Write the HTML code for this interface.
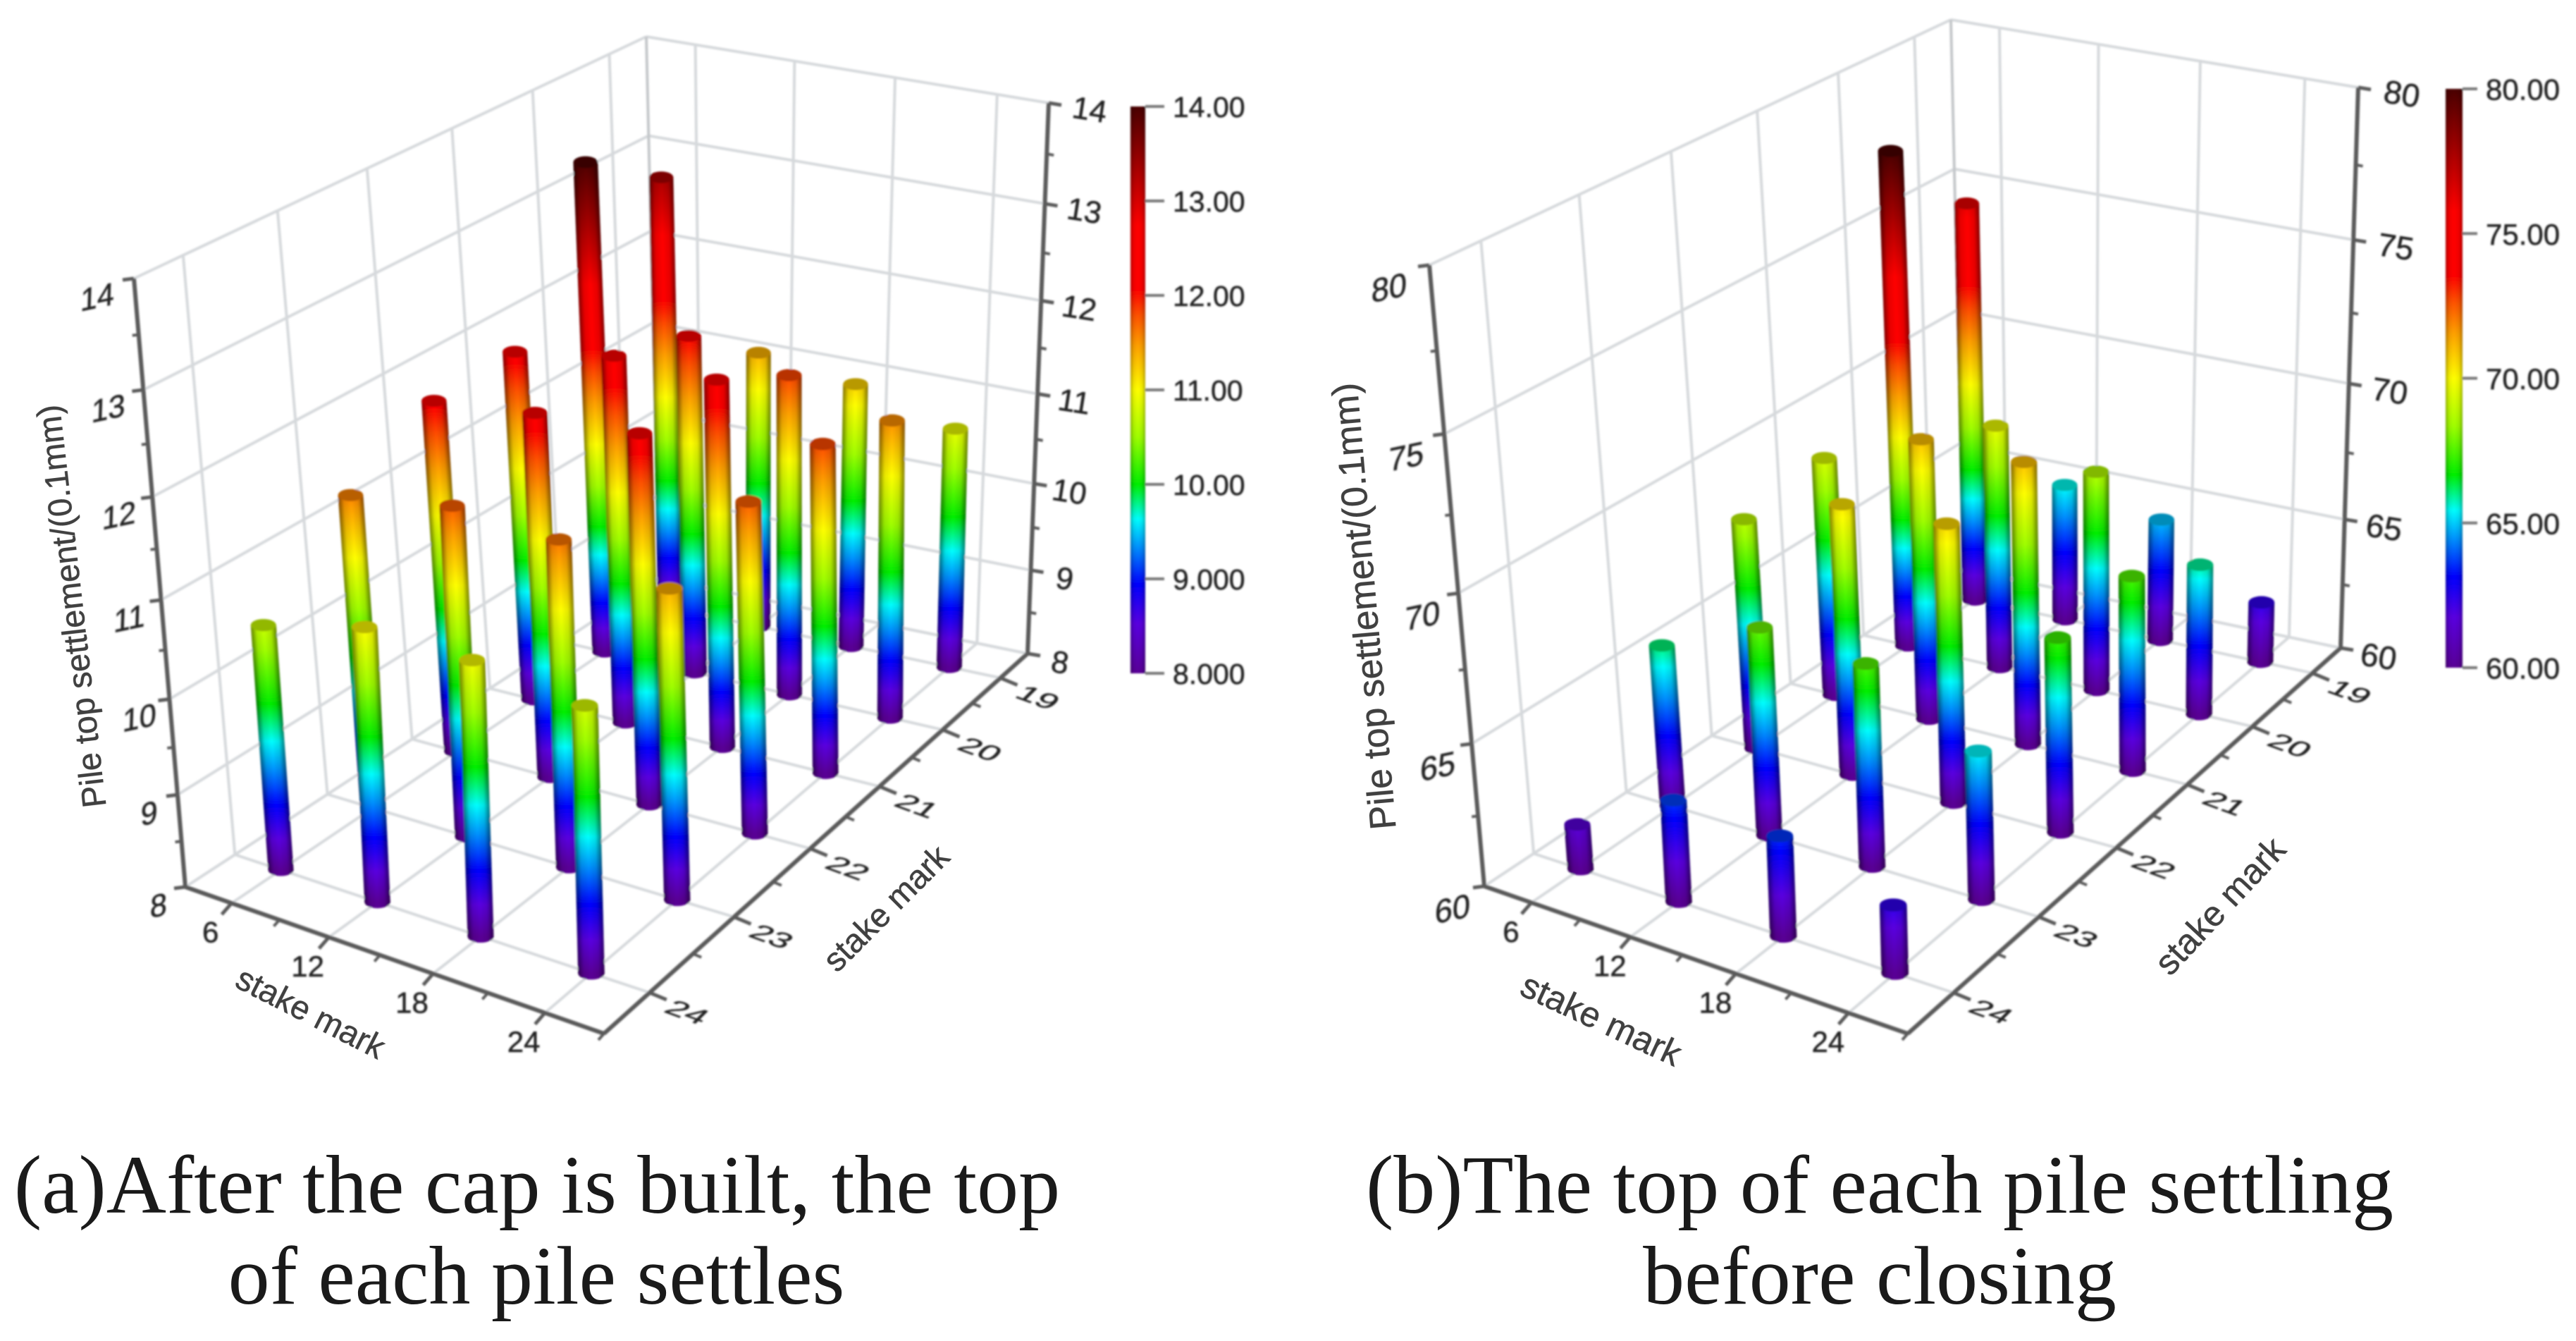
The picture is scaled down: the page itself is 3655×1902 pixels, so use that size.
<!DOCTYPE html>
<html lang="en">
<head>
<meta charset="utf-8">
<title>Pile top settlement 3D column charts</title>
<style>
html,body{margin:0;padding:0;background:#fff;width:3655px;height:1902px;overflow:hidden}
svg{display:block}
text{font-family:"Liberation Sans",sans-serif}
.caption{font-family:"Liberation Serif",serif;font-size:118px;fill:#1a1a1a;text-anchor:middle}
.title{fill:#404040;text-anchor:middle;dominant-baseline:central;stroke:#404040;stroke-width:0.5px}
</style>
</head>
<body>
<svg id="figure" xmlns="http://www.w3.org/2000/svg" width="3655" height="1902" viewBox="0 0 3655 1902">
  <defs>
    <linearGradient id="cyl-shade" x1="0" y1="0" x2="1" y2="0">
      <stop offset="0" stop-color="#000" stop-opacity="0.5"/>
      <stop offset="0.22" stop-color="#000" stop-opacity="0.1"/>
      <stop offset="0.5" stop-color="#000" stop-opacity="0"/>
      <stop offset="0.78" stop-color="#000" stop-opacity="0.1"/>
      <stop offset="1" stop-color="#000" stop-opacity="0.5"/>
    </linearGradient>
    <filter id="soft" x="-2%" y="-2%" width="104%" height="104%"><feGaussianBlur stdDeviation="1.2"/></filter>
  </defs>
  <rect width="3655" height="1902" fill="#fff"/>
  <g id="chart-a" filter="url(#soft)"></g>
  <g id="chart-b" filter="url(#soft)"></g>

  <text class="title" font-size="47" transform="translate(101,860) rotate(-96.6)">Pile top settlement/(0.1mm)</text>
  <text class="title" font-size="47" transform="translate(441,1436) rotate(27)">stake mark</text>
  <text class="title" font-size="47" transform="translate(1257,1288) rotate(-45)">stake mark</text>

  <text class="title" font-size="52" transform="translate(1936,860) rotate(-95)">Pile top settlement/(0.1mm)</text>
  <text class="title" font-size="50" transform="translate(2272,1446) rotate(25)">stake mark</text>
  <text class="title" font-size="50" transform="translate(3150,1285) rotate(-47)">stake mark</text>

  <text class="caption" x="762" y="1720">(a)After the cap is built, the top</text>
  <text class="caption" x="761" y="1849">of each pile settles</text>
  <text class="caption" x="2667" y="1720">(b)The top of each pile settling</text>
  <text class="caption" x="2667" y="1849">before closing</text>
</svg>
<script>
// ---- shared categories ----
const xCategories = [6, 12, 18, 24];
const yCategories = [19, 20, 21, 22, 23, 24];

// ---- chart (a) values: one array per y stake mark, ordered by xCategories ----
const aRow19 = [13.32, 11.37, 11.21, 10.9];
const aRow20 = [13.97, 12.08, 11.84, 11.54];
const aRow21 = [12.17, 12.36, 12.32, 11.82];
const aRow22 = [12.12, 12.23, 12.25, 11.74];
const aRow23 = [11.59, 11.74, 11.64, 11.39];
const aRow24 = [10.73, 11.01, 10.96, 10.8];
const aZTicks = [8, 9, 10, 11, 12, 13, 14];
const aBarTicks = [8, 9, 10, 11, 12, 13, 14];
const aBarLabels = ["8.000", "9.000", "10.00", "11.00", "12.00", "13.00", "14.00"];

// ---- chart (b) values ----
const bRow19 = [76.3, 65.5, 64.9, 62.4];
const bRow20 = [80, 69.7, 68.7, 65.9];
const bRow21 = [69.4, 71.0, 71.0, 67.5];
const bRow22 = [68.9, 70.4, 70.6, 67.3];
const bRow23 = [66.1, 67.8, 67.5, 65.4];
const bRow24 = [61.65, 63.7, 63.6, 62.4];
const bZTicks = [60, 65, 70, 75, 80];
const bBarTicks = [60, 65, 70, 75, 80];
const bBarLabels = ["60.00", "65.00", "70.00", "75.00", "80.00"];

// ---- rainbow colour scale (fraction, colour) ----
const scaleFractions = [0, 0.087, 0.157, 0.222, 0.272, 0.333, 0.417, 0.5, 0.578, 0.633, 0.678, 0.79, 0.9, 1];
const scaleColors = ["#5a0096","#5a00e0","#0000ff","#0090ff","#00ffff","#00f000","#a0ff00","#ffff00","#ffa000","#ff5000","#ff0000","#ff0000","#a00000","#4a0000"];

const NS = "http://www.w3.org/2000/svg";
const defs = document.querySelector("#figure defs");
let gradId = 0;

function make(tag, attrs, parent) {
  const el = document.createElementNS(NS, tag);
  for (const k in attrs) el.setAttribute(k, attrs[k]);
  if (parent) parent.appendChild(el);
  return el;
}
function hexRgb(h) { return [1, 3, 5].map(i => parseInt(h.substr(i, 2), 16)); }
function colorAt(f) {
  for (let i = 1; i < scaleFractions.length; i++) {
    if (f <= scaleFractions[i]) {
      const t = (f - scaleFractions[i - 1]) / (scaleFractions[i] - scaleFractions[i - 1]);
      const a = hexRgb(scaleColors[i - 1]), b = hexRgb(scaleColors[i]);
      return a.map((c, j) => Math.round(c + (b[j] - c) * t));
    }
  }
  return hexRgb(scaleColors[scaleColors.length - 1]);
}
function rgb(c, m) { m = m === undefined ? 1 : m; return "rgb(" + c.map(v => Math.round(v * m)).join(",") + ")"; }

// projective map of the unit square on a screen quad
function quadMap(p00, p10, p11, p01) {
  const dx1 = p10[0] - p11[0], dx2 = p01[0] - p11[0], sx = p00[0] - p10[0] + p11[0] - p01[0];
  const dy1 = p10[1] - p11[1], dy2 = p01[1] - p11[1], sy = p00[1] - p10[1] + p11[1] - p01[1];
  const det = dx1 * dy2 - dx2 * dy1;
  const g = (sx * dy2 - dx2 * sy) / det, h = (dx1 * sy - sx * dy1) / det;
  const a = p10[0] - p00[0] + g * p10[0], b = p01[0] - p00[0] + h * p01[0], c = p00[0];
  const d = p10[1] - p00[1] + g * p10[1], e = p01[1] - p00[1] + h * p01[1], f = p00[1];
  return (u, v) => {
    const w = g * u + h * v + 1;
    return [(a * u + b * v + c) / w, (d * u + e * v + f) / w];
  };
}

function seg(parent, name, a, b, color, width) {
  const el = make("line", { x1: a[0], y1: a[1], x2: b[0], y2: b[1], stroke: color, "stroke-width": width }, parent);
  
  
  return el;
}
function label(parent, name, text, x, y, size, extra, anchor) {
  const el = make("text", {
    "font-size": size, fill: "#222", stroke: "#222", "stroke-width": 0.5,
    "text-anchor": anchor || "middle", "dominant-baseline": "central",
    transform: "translate(" + x + "," + y + ") " + (extra || "")
  }, parent);
  el.textContent = text;
  
  
  return el;
}

function drawChart(root, cfg, rows, zTicks, barTicks, barLabels) {
  const floor = quadMap(cfg.B, cfg.C, cfg.F, cfg.L);
  const top = quadMap(cfg.TB, cfg.TC, cfg.TF, cfg.TL);
  const zMin = zTicks[0], zMax = zTicks[zTicks.length - 1];
  const xMin = 3, xMax = 27, yMin = 18.5, yMax = 24.5;
  const uOf = x => (x - xMin) / (xMax - xMin);
  const vOf = y => (y - yMin) / (yMax - yMin);
  const persp = s => s / (s + (1 - s) * 1.12);
  const P = (u, v, s) => {
    const a = floor(u, v), b = top(u, v), p = persp(s);
    return [a[0] + (b[0] - a[0]) * p, a[1] + (b[1] - a[1]) * p];
  };
  const zFrac = z => (z - zMin) / (zMax - zMin);
  const GRID = "#d6d9dc", AXIS = "#5a5a5a";

  const grid = make("g", { fill: "none" }, root);
  
  

  zTicks.forEach(z => {
    const s = zFrac(z);
    seg(grid, "left-wall-gridline-" + z, P(0, 1, s), P(0, 0, s), GRID, 4);
    seg(grid, "back-wall-gridline-" + z, P(0, 0, s), P(1, 0, s), GRID, 4);
  });
  yCategories.forEach(y => {
    const v = vOf(y);
    seg(grid, "left-wall-vertical-" + y, P(0, v, 0), P(0, v, 1), GRID, 4);
    seg(grid, "floor-gridline-y-" + y, P(0, v, 0), P(1, v, 0), GRID, 4);
  });
  xCategories.forEach(x => {
    const u = uOf(x);
    seg(grid, "back-wall-vertical-" + x, P(u, 0, 0), P(u, 0, 1), GRID, 4);
    seg(grid, "floor-gridline-x-" + x, P(u, 0, 0), P(u, 1, 0), GRID, 4);
  });
  seg(grid, "back-corner-edge", P(0, 0, 0), P(0, 0, 1), "#c4c7ca", 4);
  seg(grid, "floor-back-left-edge", P(0, 0, 0), P(0, 1, 0), GRID, 4);
  seg(grid, "floor-back-right-edge", P(0, 0, 0), P(1, 0, 0), GRID, 4);

  // axes
  const axes = make("g", {}, root);
  
  
  seg(axes, "z-axis-left", P(0, 1, 0), P(0, 1, 1), AXIS, 6);
  seg(axes, "z-axis-right", P(1, 0, 0), P(1, 0, 1), AXIS, 6);
  seg(axes, "x-axis", P(0, 1, 0), P(1, 1, 0), AXIS, 6);
  seg(axes, "y-axis", P(1, 1, 0), P(1, 0, 0), AXIS, 6);

  // z ticks and labels
  zTicks.forEach((z, i) => {
    const s = zFrac(z), a = P(0, 1, s), b = P(1, 0, s);
    seg(axes, "z-tick-left-" + z, a, [a[0] - 16, a[1] + 2], AXIS, 5);
    seg(axes, "z-tick-right-" + z, b, [b[0] + 18, b[1] + 3], AXIS, 5);
    label(root, "z-tick-label-left-" + z, String(z), a[0] + cfg.zl[0] - cfg.zlSlope * s, a[1] + cfg.zl[1], cfg.zSize, "rotate(-12) skewX(-14)");
    label(root, "z-tick-label-right-" + z, String(z), b[0] + cfg.zr[0] + cfg.zrSlope * s, b[1] + cfg.zr[1] - 3 * s, cfg.zSize, "rotate(9)");
    if (i < zTicks.length - 1) {
      const m = (s + zFrac(zTicks[i + 1])) / 2, c = P(0, 1, m), d = P(1, 0, m);
      seg(axes, "z-minor-tick-left", c, [c[0] - 9, c[1] + 1], AXIS, 4);
      seg(axes, "z-minor-tick-right", d, [d[0] + 10, d[1] + 2], AXIS, 4);
    }
  });
  // x ticks and labels
  xCategories.forEach((x, i) => {
    const a = P(uOf(x), 1, 0);
    seg(axes, "x-tick-" + x, a, [a[0] - 14, a[1] + 16], AXIS, 5);
    label(root, "x-tick-label-" + x, String(x), a[0] + cfg.xl[0], a[1] + cfg.xl[1], cfg.xSize, "");
    const m = P(uOf(x + 3), 1, 0);
    if (i < xCategories.length) seg(axes, "x-minor-tick", m, [m[0] - 8, m[1] + 9], AXIS, 4);
  });
  // y ticks and labels
  yCategories.forEach((y, i) => {
    const a = P(1, vOf(y), 0);
    seg(axes, "y-tick-" + y, a, [a[0] + 24, a[1] + 10], AXIS, 5);
    label(root, "y-tick-label-" + y, String(y), a[0] + cfg.yl[0], a[1] + cfg.yl[1], cfg.ySize, "rotate(20) skewX(-25) scale(1.2,0.78)");
    if (i < yCategories.length - 1) {
      const m = P(1, vOf(y + 0.5), 0);
      seg(axes, "y-minor-tick", m, [m[0] + 12, m[1] + 5], AXIS, 4);
    }
  });

  // piles, sorted far to near
  const piles = [];
  yCategories.forEach((y, r) => {
    xCategories.forEach((x, c) => {
      const u = uOf(x), v = vOf(y);
      piles.push({ x: x, y: y, u: u, v: v, value: rows[r][c], base: floor(u, v) });
    });
  });
  piles.sort((a, b) => a.base[1] - b.base[1]);

  piles.forEach(p => {
    const F = Math.max(0.005, zFrac(p.value));
    const tp = top(p.u, p.v);
    const h = F * cfg.k;
    const head = [p.base[0] + (tp[0] - p.base[0]) * h, p.base[1] + (tp[1] - p.base[1]) * h];
    const w = cfg.w0 + cfg.w1 * (p.u + p.v) / 2;

    const g = make("g", {}, root);
    
    

    const id = "pile-grad-" + (gradId++);
    const grad = make("linearGradient", { id: id, x1: 0, y1: 0, x2: 0, y2: 1 }, defs);
    scaleFractions.forEach((f, i) => {
      if (f < F) make("stop", { offset: Math.pow(f / F, 1.25), "stop-color": scaleColors[i] }, grad);
    });
    const headColor = colorAt(F);
    make("stop", { offset: 1, "stop-color": rgb(headColor) }, grad);

    make("ellipse", { cx: p.base[0], cy: p.base[1], rx: w / 2, ry: w * 0.24, fill: "#5a0096" }, g);
    make("ellipse", { cx: p.base[0], cy: p.base[1], rx: w / 2, ry: w * 0.24, fill: "url(#cyl-shade)" }, g);
    const matrix = "matrix(" + w + ",0," + (head[0] - p.base[0]) + "," + (head[1] - p.base[1]) + "," + p.base[0] + "," + p.base[1] + ")";
    make("rect", { x: -0.5, y: 0, width: 1, height: 1, fill: "url(#" + id + ")", transform: matrix }, g);
    make("rect", { x: -0.5, y: 0, width: 1, height: 1, fill: "url(#cyl-shade)", transform: matrix }, g);
    make("ellipse", { cx: head[0], cy: head[1], rx: w / 2, ry: w * 0.24, fill: rgb(headColor, 0.72) }, g);
  });

  // colour bar
  const bar = make("g", {}, root);
  
  
  const barId = "bar-grad-" + (gradId++);
  const bg = make("linearGradient", { id: barId, x1: 0, y1: 1, x2: 0, y2: 0 }, defs);
  scaleFractions.forEach((f, i) => make("stop", { offset: f, "stop-color": scaleColors[i] }, bg));
  const bx = cfg.barX, bw = cfg.barW;
  const barY = val => cfg.barBottom + (val - barTicks[0]) / (barTicks[barTicks.length - 1] - barTicks[0]) * (cfg.barTop - cfg.barBottom);
  make("rect", { x: bx, y: cfg.barTop, width: bw, height: cfg.barBottom - cfg.barTop, fill: "url(#" + barId + ")" }, bar);
  make("rect", { x: bx, y: cfg.barTop, width: bw, height: cfg.barBottom - cfg.barTop, fill: "url(#cyl-shade)", opacity: 0.6 }, bar);
  barTicks.forEach((t, i) => {
    const y = barY(t);
    seg(bar, "colorbar-tick-" + t, [bx + bw, y], [bx + bw + cfg.barTick, y], "#777", 4);
    label(bar, "colorbar-label-" + t, barLabels[i], bx + bw + cfg.barTick + 12, y + 1, cfg.barSize, "", "start");
  });
}

drawChart(document.getElementById("chart-a"), {
  TL: [190, 395], TB: [917, 52], TC: [1488, 146], TF: [836, 517],
  L: [263, 1258], B: [935, 820], C: [1458, 927], F: [857, 1466],
  k: 0.89, w0: 34, w1: 4,
  zl: [-38, 27], zlSlope: 14, zr: [46, 13], zrSlope: 12, xl: [-30, 41], yl: [53, 28],
  zSize: 44, xSize: 42, ySize: 42,
  barX: 1604, barW: 21, barTop: 151, barBottom: 955, barTick: 27, barSize: 41
}, [aRow19, aRow20, aRow21, aRow22, aRow23, aRow24], aZTicks, aBarTicks, aBarLabels);

drawChart(document.getElementById("chart-b"), {
  TL: [2028, 376], TB: [2768, 28], TC: [3346, 124], TF: [2685, 517],
  L: [2106, 1257], B: [2786, 807], C: [3321, 919], F: [2707, 1466],
  k: 0.877, w0: 35, w1: 4,
  zl: [-45, 32], zlSlope: 12, zr: [54, 12], zrSlope: 8, xl: [-29, 41], yl: [53, 27],
  zSize: 46, xSize: 42, ySize: 42,
  barX: 3470, barW: 24, barTop: 126, barBottom: 947, barTick: 21, barSize: 42
}, [bRow19, bRow20, bRow21, bRow22, bRow23, bRow24], bZTicks, bBarTicks, bBarLabels);
</script>
</body>
</html>
